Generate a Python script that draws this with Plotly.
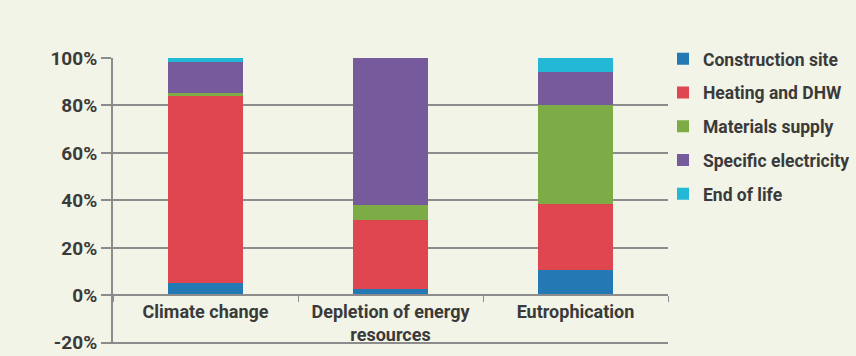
import plotly.graph_objects as go

categories = ["Climate change", "Depletion of energy<br>resources", "Eutrophication"]
series_names = ["Construction site", "Heating and DHW", "Materials supply",
                "Specific electricity", "End of life"]
construction_site = [5.0, 2.5, 10.7]
heating_dhw = [79.0, 29.2, 27.9]
materials_supply = [1.3, 6.5, 41.4]
specific_electricity = [13.0, 61.8, 14.0]
end_of_life = [1.7, 0.0, 6.0]
y_ticks = [-20, 0, 20, 40, 60, 80, 100]

values = [construction_site, heating_dhw, materials_supply, specific_electricity, end_of_life]
colors = ["#2279b3", "#e0464f", "#7dab46", "#775a9b", "#22b8d6"]

FONT = "Roboto, sans-serif"
TXT = "#3a3a3a"
GRID = "#8c8c8c"
BG = "#f2f4e7"

fig = go.Figure()
for name, vals, col in zip(series_names, values, colors):
    fig.add_trace(go.Bar(
        name=name, x=categories, y=vals,
        marker=dict(color=col, line=dict(width=0)),
        width=0.41, legendgroup=name,
    ))

fig.update_layout(
    barmode="stack",
    width=856, height=356,
    margin=dict(l=113, r=188, t=58, b=12, autoexpand=False),
    paper_bgcolor=BG, plot_bgcolor=BG,
    font=dict(family=FONT, size=20, color=TXT, weight="bold"),
    legend=dict(
        x=0.991, xanchor="left", y=1.06, yanchor="top",
        bgcolor="rgba(0,0,0,0)",
        font=dict(family=FONT, size=17.5, color=TXT, weight="bold"),
        tracegroupgap=8, itemwidth=30,
        traceorder="grouped",
    ),
    xaxis=dict(
        anchor="free", position=0.5/120.5 + 20/120.5,
        showline=True, linecolor=GRID, linewidth=2,
        ticks="outside", tickson="boundaries", ticklen=6, tickcolor=GRID, tickwidth=1,
        showgrid=False, tickangle=0, automargin=False,
        tickfont=dict(family=FONT, size=18, color=TXT, weight="bold"),
    ),
    yaxis=dict(
        range=[-20.5, 100], tickvals=y_ticks,
        ticktext=[f"{v}%" for v in y_ticks],
        showgrid=True, gridcolor=GRID, gridwidth=2,
        zeroline=False, automargin=False,
        showline=True, linecolor=GRID, linewidth=2,
        ticks="outside", ticklen=10, tickcolor=GRID, tickwidth=2,
        ticklabeloverflow="allow",
        tickfont=dict(family=FONT, size=19, color=TXT, weight="bold"),
    ),
    bargap=0.59,
)

fig.write_html("out.html")
